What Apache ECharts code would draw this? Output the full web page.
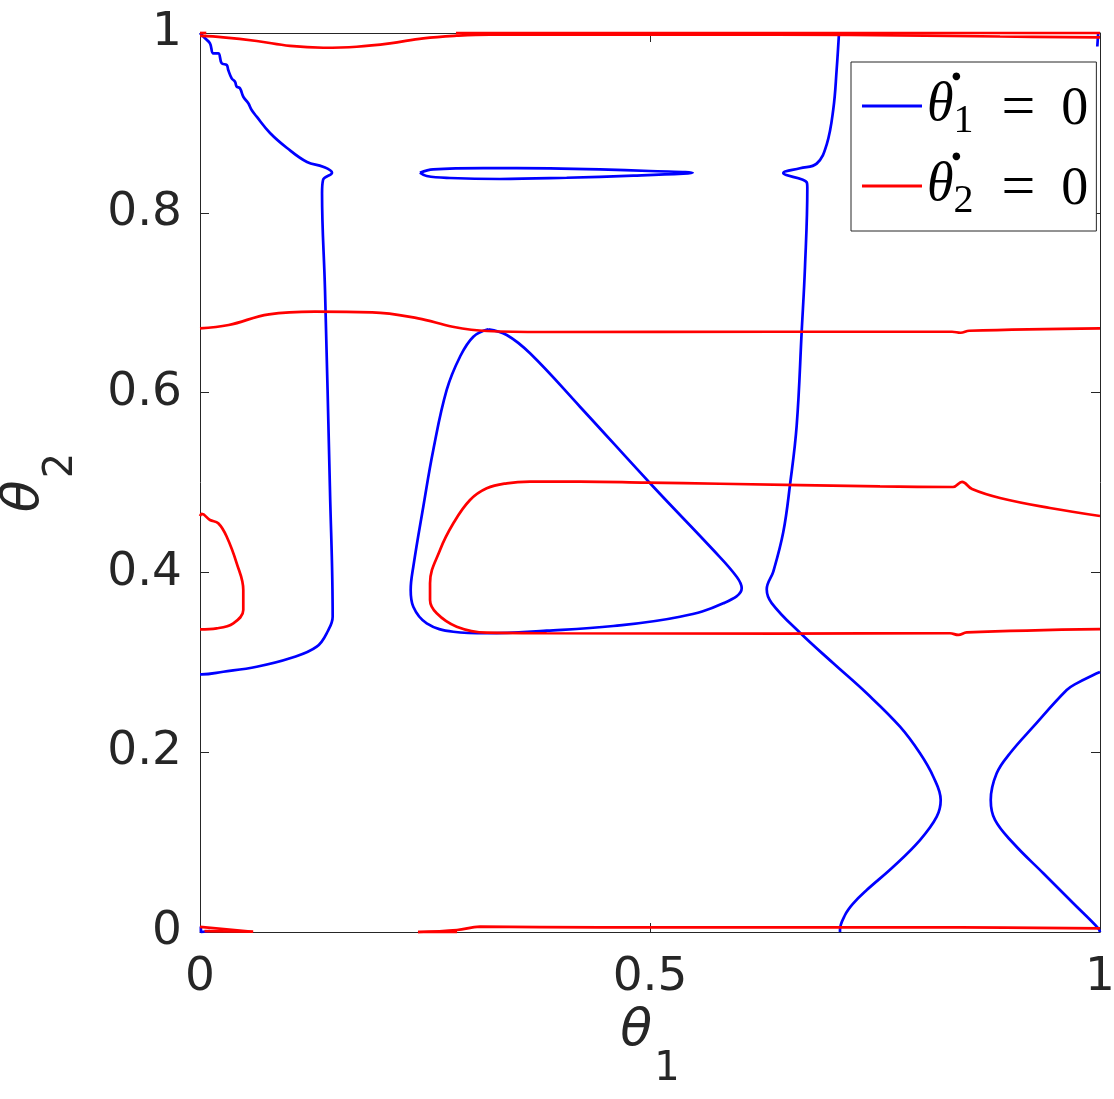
<!DOCTYPE html>
<html><head><meta charset="utf-8">
<script src="https://cdn.jsdelivr.net/npm/echarts@6/dist/echarts.min.js"></script>
<style>html,body{margin:0;padding:0;background:#fff}#c{width:1114px;height:1099px}</style>
</head><body><div id="c"></div>
<script>
// ---- tick labels ----
const xTickValues = [0, 0.5, 1];
const xTickLabels = ['0', '0.5', '1'];
const yTickValues = [0, 0.2, 0.4, 0.6, 0.8, 1];
const yTickLabels = ['0', '0.2', '0.4', '0.6', '0.8', '1'];
const legendNames = ['θ̇1 = 0', 'θ̇2 = 0'];

// ---- blue: theta1-dot = 0 ----
const blueLeft = [[0,1.0],[0.0056,0.9941],[0.0111,0.9885],[0.0148,0.9774],[0.0203,0.9774],[0.0241,0.9663],[0.0297,0.9644],[0.0314,0.9588],[0.0352,0.9496],[0.0389,0.9458],[0.0408,0.9403],[0.0444,0.9385],[0.0481,0.9291],[0.0537,0.9218],[0.0574,0.9143],[0.063,0.9069],[0.0778,0.8888],[0.0967,0.8721],[0.1189,0.8565],[0.1367,0.8513],[0.1467,0.8446],[0.1367,0.8365],[0.1356,0.8217],[0.1389,0.714],[0.1444,0.492],[0.1474,0.3507],[0.1426,0.3359],[0.1297,0.3174],[0.1,0.3045],[0.063,0.2951],[0.0259,0.2895],[0.0019,0.2866],[0,0.2866]];
const blueEllipse = [[0.2444,0.8446],[0.2592,0.8484],[0.3148,0.8498],[0.3889,0.8495],[0.4444,0.8484],[0.5,0.8465],[0.5474,0.8446],[0.537,0.8435],[0.4815,0.8413],[0.4074,0.839],[0.3333,0.8376],[0.2778,0.8387],[0.2519,0.8409],[0.2444,0.8446]];
const blueTriangle = [[0.3203,0.6704],[0.3408,0.6641],[0.3667,0.6437],[0.4222,0.5843],[0.5037,0.4953],[0.5703,0.4249],[0.5963,0.3952],[0.6019,0.3823],[0.5814,0.3656],[0.5333,0.3507],[0.4592,0.3404],[0.3852,0.3352],[0.3186,0.3323],[0.2814,0.334],[0.2519,0.3434],[0.237,0.3618],[0.2341,0.3804],[0.237,0.4063],[0.2481,0.4731],[0.2592,0.5362],[0.2741,0.6029],[0.2889,0.6399],[0.3037,0.6622],[0.3203,0.6704]];
const blueRight = [[0.71,1.0],[0.7074,0.9594],[0.7037,0.9155],[0.6963,0.8759],[0.6852,0.8547],[0.6667,0.8495],[0.6481,0.8442],[0.6741,0.834],[0.6748,0.8275],[0.6722,0.7395],[0.6686,0.6692],[0.663,0.5636],[0.6556,0.4978],[0.6481,0.4449],[0.637,0.401],[0.6297,0.3812],[0.6352,0.3659],[0.6667,0.3328],[0.7037,0.2989],[0.7408,0.2655],[0.7778,0.2284],[0.8,0.1988],[0.8148,0.1727],[0.823,0.1468],[0.8186,0.1283],[0.8,0.1023],[0.7703,0.0726],[0.7408,0.0467],[0.7259,0.0319],[0.7167,0.0189],[0.7111,0.0022],[0.7111,0]];
const blueFarRight = [[1,0.2892],[0.9926,0.2859],[0.9741,0.2766],[0.963,0.2692],[0.9259,0.2284],[0.9,0.1988],[0.8852,0.1765],[0.8786,0.1468],[0.8833,0.1246],[0.9037,0.0987],[0.937,0.0653],[0.9703,0.0319],[0.9981,0.0041],[1,0]];
const blueCornerTop = [[0.998,1.0],[0.997,0.985]];
const blueCornerBottom = [[0.001,0.006],[0.001,0.0],[0.011,0.001]];

// ---- red: theta2-dot = 0 ----
const redTop = [[0,0.9967],[0.0259,0.9952],[0.063,0.9911],[0.1,0.9856],[0.137,0.9836],[0.1741,0.9847],[0.2111,0.9885],[0.2481,0.9941],[0.2852,0.997],[0.3222,0.9983],[0.5556,0.9983],[0.7222,0.9978],[0.8889,0.9961],[1,0.9952]];
const redTopEdge = [[0.2844,1.0],[1,1.0]];
const redTopCorner = [[0,1.0],[0.007,1.0]];
const redUpper = [[0,0.6715],[0.0319,0.6752],[0.0766,0.6871],[0.1276,0.69],[0.1913,0.6893],[0.2424,0.6826],[0.2807,0.6733],[0.3189,0.6685],[0.3827,0.6674],[0.6378,0.6677],[0.8356,0.6677],[0.8451,0.6666],[0.8547,0.6688],[1,0.6715]];
const redLoop = [[1,0.4627],[0.9444,0.4716],[0.8889,0.4828],[0.8578,0.4928],[0.8467,0.5006],[0.8367,0.495],[0.7556,0.4956],[0.5778,0.4986],[0.4963,0.4998],[0.4222,0.5009],[0.3667,0.5009],[0.3408,0.4991],[0.3186,0.4935],[0.3,0.4805],[0.2815,0.4546],[0.2667,0.4249],[0.2556,0.3879],[0.2556,0.3693],[0.263,0.3545],[0.2852,0.3396],[0.3186,0.3329],[0.3852,0.3323],[0.6444,0.332],[0.8333,0.3323],[0.8426,0.3304],[0.8519,0.3333],[1,0.337]];
const redLeft = [[0,0.4627],[0.0019,0.465],[0.0111,0.4583],[0.0203,0.4546],[0.0297,0.4397],[0.0408,0.4101],[0.0481,0.3804],[0.0481,0.3582],[0.037,0.3434],[0.0186,0.3378],[0,0.3367]];
const redBottomLeftA = [[0,0.0056],[0.059,0.0003]];
const redBottomLeftB = [[0.005,0.001],[0.059,0.0003]];
const redBottom = [[0.2422,0],[0.2856,0.0022],[0.3111,0.0059],[0.4444,0.0051],[0.8444,0.0051],[1,0.0041]];
const redBottomSliver = [[0.2422,0],[0.2856,0]];

const BLUE = '#0000ff', RED = '#ff0000', AX = '#262626';

const blueSets = [blueLeft, blueEllipse, blueTriangle, blueRight, blueFarRight, blueCornerTop, blueCornerBottom];
const redSets = [redTop, redTopEdge, redTopCorner, redUpper, redLoop, redLeft, redBottomLeftA, redBottomLeftB, redBottom, redBottomSliver];

function mk(data, name, color) {
  return {type: 'line', name: name, data: data, showSymbol: false, symbol: 'none',
    smooth: 0.4, clip: false, silent: true, animation: false,
    lineStyle: {color: color, width: 2.7}, itemStyle: {color: color}};
}
const series = [];
blueSets.forEach(d => series.push(mk(d, legendNames[0], BLUE)));
redSets.forEach(d => series.push(mk(d, legendNames[1], RED)));

const nameRich = {
  a: {fontFamily: 'DejaVu Sans', fontStyle: 'italic', fontSize: 52, lineHeight: 56, verticalAlign: 'top', color: AX},
  b: {fontFamily: 'DejaVu Sans', fontSize: 40, lineHeight: 40, verticalAlign: 'top', padding: [44, 0, 0, 2], color: AX}
};
const baseAxis = {
  type: 'value', min: 0, max: 1,
  axisLine: {show: true, onZero: false, lineStyle: {color: AX, width: 1}},
  axisTick: {show: true, inside: true, length: 9, lineStyle: {color: AX, width: 1}},
  splitLine: {show: false}
};
const serif = 'Liberation Serif';
const chart = echarts.init(document.getElementById('c'), null, {renderer: 'canvas'});
chart.setOption({
  backgroundColor: '#fff',
  animation: false,
  grid: {left: 200, right: 14, top: 33, bottom: 167, containLabel: false, outerBoundsMode: 'none'},
  xAxis: [
    Object.assign({}, baseAxis, {position: 'bottom', interval: 0.5,
      axisLabel: {fontSize: 47, color: AX, fontFamily: 'DejaVu Sans', margin: 22,
        formatter: v => { const i = xTickValues.findIndex(t => Math.abs(t - v) < 1e-9); return i >= 0 ? xTickLabels[i] : ''; }},
      name: '{a|θ}{b|1}', nameLocation: 'middle', nameGap: 70, nameTextStyle: {rich: nameRich}}),
    Object.assign({}, baseAxis, {position: 'top', interval: 0.5, axisLabel: {show: false}})
  ],
  yAxis: [
    Object.assign({}, baseAxis, {position: 'left', interval: 0.2,
      axisLabel: {fontSize: 47, color: AX, fontFamily: 'DejaVu Sans', margin: 18,
        formatter: v => { const i = yTickValues.findIndex(t => Math.abs(t - v) < 1e-9); return i >= 0 ? yTickLabels[i] : ''; }},
      name: '{a|θ}{b|2}', nameLocation: 'middle', nameGap: 146, nameRotate: 90, nameTextStyle: {rich: nameRich}}),
    Object.assign({}, baseAxis, {position: 'right', interval: 0.2, axisLabel: {show: false}})
  ],
  legend: {
    data: legendNames, orient: 'vertical', left: 851, top: 62,
    padding: [9, 8, 10, 11], itemGap: 10, itemWidth: 60, itemHeight: 3, icon: 'rect',
    backgroundColor: '#fff', borderColor: AX, borderWidth: 1, borderRadius: 0,
    selectedMode: false,
    formatter: function (n) {
      const k = n === legendNames[0] ? '1' : '2';
      return '{d|●}\n{th|θ}{sub|' + k + '}{eq|=}{z|0}';
    },
    textStyle: {color: '#000', rich: {
      d: {fontFamily: 'DejaVu Sans', fontSize: 10, lineHeight: 6, verticalAlign: 'middle', padding: [0, 0, 0, 25], color: '#000'},
      th: {fontFamily: serif, fontStyle: 'italic', fontSize: 54, lineHeight: 56, verticalAlign: 'top', color: '#000'},
      sub: {fontFamily: serif, fontSize: 40, lineHeight: 40, verticalAlign: 'top', padding: [22, 0, 0, 0], color: '#000'},
      eq: {fontFamily: serif, fontSize: 60, lineHeight: 60, verticalAlign: 'top', padding: [0, 0, 0, 28], color: '#000'},
      z: {fontFamily: serif, fontSize: 54, lineHeight: 56, verticalAlign: 'top', padding: [4, 0, 0, 26], color: '#000'}
    }}
  },
  series: series
});
</script></body></html>
